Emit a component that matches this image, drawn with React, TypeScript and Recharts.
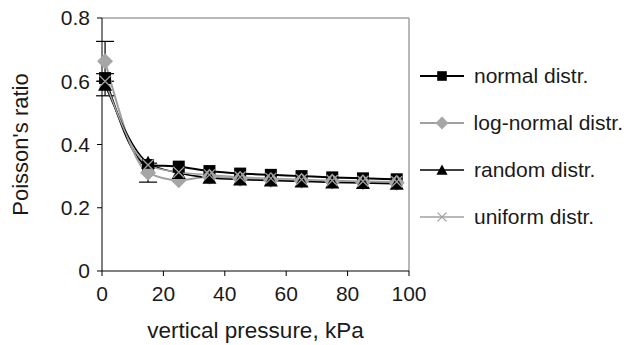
import { LineChart, Line, XAxis, YAxis, Legend, ReferenceLine, ErrorBar, Label } from "recharts"

const pressure = [1, 15, 25, 35, 45, 55, 65, 75, 85, 96]
const normal = [0.61, 0.335, 0.33, 0.316, 0.308, 0.304, 0.3, 0.296, 0.293, 0.29]
const logNormal = [0.663, 0.311, 0.287, 0.298, 0.292, 0.288, 0.285, 0.283, 0.281, 0.279]
const random = [0.589, 0.342, 0.31, 0.295, 0.289, 0.286, 0.283, 0.28, 0.278, 0.276]
const uniform = [0.6, 0.335, 0.312, 0.304, 0.297, 0.293, 0.289, 0.286, 0.284, 0.282]
// error bars
const logNormalErr = [0.063, 0.03, 0, 0, 0, 0, 0, 0, 0, 0]
const randomErr = [0.035, 0, 0, 0, 0, 0, 0, 0, 0, 0]

const xTicks = [0, 20, 40, 60, 80, 100]
const yTicks = [0, 0.2, 0.4, 0.6, 0.8]

const data = pressure.map((p, i) => ({
  p,
  normal: normal[i],
  logNormal: logNormal[i],
  random: random[i],
  uniform: uniform[i],
  lnErr: logNormalErr[i] || undefined,
  rdErr: randomErr[i] || undefined,
}))

const GRAY = "#a0a0a0"
const FONT = "'Liberation Sans', Arial, sans-serif"
const TEXT = "#1a1a1a"

const series = [
  { key: "normal", name: "normal distr.", color: "#000", marker: "square", width: 2 },
  { key: "logNormal", name: "log-normal distr.", color: GRAY, marker: "diamond", width: 2 },
  { key: "random", name: "random distr.", color: "#000", marker: "triangle", width: 1.5 },
  { key: "uniform", name: "uniform distr.", color: GRAY, marker: "cross", width: 1.5 },
]

function Marker({ cx, cy, kind, scale = 1 }: { cx: number; cy: number; kind: string; scale?: number }) {
  if (cx == null || cy == null) return null
  const s = scale
  if (kind === "square") {
    const h = 6 * s
    return <rect x={cx - h} y={cy - h} width={2 * h} height={2 * h} fill="#000" />
  }
  if (kind === "diamond") {
    const h = 8 * s
    return <polygon points={`${cx},${cy - h} ${cx + h},${cy} ${cx},${cy + h} ${cx - h},${cy}`} fill="#a6a6a6" />
  }
  if (kind === "triangle") {
    const h = 7 * s
    return <polygon points={`${cx},${cy - h} ${cx + h},${cy + h * 0.85} ${cx - h},${cy + h * 0.85}`} fill="#000" />
  }
  const h = 5.5 * s
  return (
    <path d={`M${cx - h},${cy - h}L${cx + h},${cy + h}M${cx - h},${cy + h}L${cx + h},${cy - h}`} stroke={GRAY} strokeWidth={1.3} fill="none" />
  )
}

function LegendContent() {
  return (
    <div>
      {series.map((s) => (
        <div key={s.key} style={{ height: 47, display: "flex", alignItems: "center" }}>
          <svg width={48} height={20} style={{ marginRight: 8 }}>
            <line x1={2} y1={10} x2={46} y2={10} stroke={s.color} strokeWidth={s.width} />
            <Marker cx={24} cy={10} kind={s.marker} scale={0.8} />
          </svg>
          <span style={{ fontSize: 21, color: TEXT, fontFamily: FONT, whiteSpace: "nowrap" }}>{s.name}</span>
        </div>
      ))}
    </div>
  )
}

export default function App() {
  return (
    <div style={{ position: "absolute", left: 0, top: 0 }}>
      <LineChart
        width={629}
        height={345}
        data={data}
        margin={{ top: 18, right: 15, left: 0, bottom: 0 }}
        style={{ fontFamily: FONT }}
      >
        <XAxis
          dataKey="p"
          type="number"
          domain={[0, 100]}
          ticks={xTicks}
          height={74}
          stroke="#000"
          tickSize={5}
          tickMargin={10}
          tick={{ fontSize: 21, fill: TEXT }}
        >
          <Label value="vertical pressure, kPa" position="insideBottom" offset={7} style={{ fontSize: 22.5, fill: TEXT }} />
        </XAxis>
        <YAxis
          type="number"
          domain={[0, 0.8]}
          ticks={yTicks}
          width={102}
          stroke="#000"
          tickSize={5}
          tickMargin={7}
          tick={{ fontSize: 21, fill: TEXT }}
        >
          <Label value="Poisson's ratio" position="center" angle={-90} dx={-31} style={{ fontSize: 22, fill: TEXT, textAnchor: "middle" }} />
        </YAxis>
        <ReferenceLine y={0.8} stroke={GRAY} strokeWidth={1.5} />
        <ReferenceLine x={100} stroke={GRAY} strokeWidth={1.5} />
        <Legend
          layout="vertical"
          align="right"
          verticalAlign="top"
          content={<LegendContent />}
          wrapperStyle={{ left: 418, top: 52, width: 205 }}
        />
        {series.map((s) => (
          <Line
            key={s.key}
            type="monotone"
            dataKey={s.key}
            name={s.name}
            stroke={s.color}
            strokeWidth={s.width}
            isAnimationActive={false}
            dot={(props: any) => <Marker key={`${s.key}-${props.index}`} cx={props.cx} cy={props.cy} kind={s.marker} />}
            activeDot={false}
          >
            {s.key === "logNormal" && <ErrorBar dataKey="lnErr" width={9} stroke="#000" strokeWidth={1.2} />}
            {s.key === "random" && <ErrorBar dataKey="rdErr" width={9} stroke="#000" strokeWidth={1.2} />}
          </Line>
        ))}
      </LineChart>
    </div>
  )
}
